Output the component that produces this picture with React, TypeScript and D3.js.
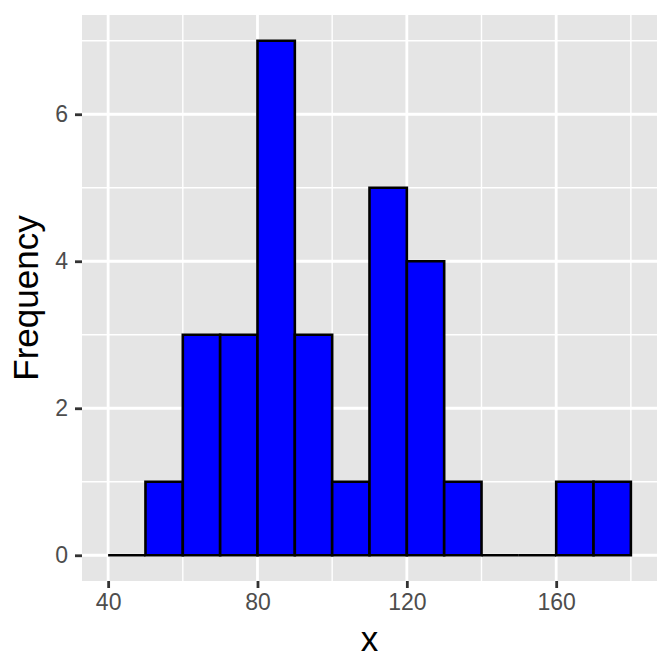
import { useEffect, useRef } from 'react';
import * as d3 from 'd3';

// Histogram bins (width 10) and their counts
const binStarts = [40, 50, 60, 70, 80, 90, 100, 110, 120, 130, 140, 150, 160, 170];
const counts = [0, 1, 3, 3, 7, 3, 1, 5, 4, 1, 0, 0, 1, 1];
const binWidth = 10;
const xTicks = [40, 80, 120, 160];
const xMinor = [60, 100, 140, 180];
const yTicks = [0, 2, 4, 6];
const yMinor = [1, 3, 5, 7];

const FONT = 'Liberation Sans, Arial, sans-serif';

const App = () => {
  const svgRef = useRef<SVGSVGElement>(null);

  useEffect(() => {
    if (!svgRef.current) return;
    d3.select(svgRef.current).selectAll('*').remove();

    const width = 672;
    const height = 672;
    const panel = { left: 82, right: 657, top: 15, bottom: 581 };

    const svg = d3.select(svgRef.current)
      .attr('width', width)
      .attr('height', height)
      .style('font-family', FONT);

    const xMin = binStarts[0];
    const xMax = binStarts[binStarts.length - 1] + binWidth;
    const xPad = (xMax - xMin) * 0.05;
    const yMax = d3.max(counts) as number;
    const yPad = yMax * 0.05;

    const x = d3.scaleLinear()
      .domain([xMin - xPad, xMax + xPad])
      .range([panel.left, panel.right]);
    const y = d3.scaleLinear()
      .domain([-yPad, yMax + yPad])
      .range([panel.bottom, panel.top]);

    // Panel background
    svg.append('rect')
      .attr('x', panel.left)
      .attr('y', panel.top)
      .attr('width', panel.right - panel.left)
      .attr('height', panel.bottom - panel.top)
      .attr('fill', '#E5E5E5');

    const grid = svg.append('g');
    // minor grid
    grid.selectAll('line.ymin').data(yMinor).join('line')
      .attr('x1', panel.left).attr('x2', panel.right)
      .attr('y1', d => y(d)).attr('y2', d => y(d))
      .attr('stroke', '#fff').attr('stroke-width', 1.4);
    grid.selectAll('line.xmin').data(xMinor).join('line')
      .attr('y1', panel.top).attr('y2', panel.bottom)
      .attr('x1', d => x(d)).attr('x2', d => x(d))
      .attr('stroke', '#fff').attr('stroke-width', 1.4);
    // major grid
    grid.selectAll('line.ymaj').data(yTicks).join('line')
      .attr('x1', panel.left).attr('x2', panel.right)
      .attr('y1', d => y(d)).attr('y2', d => y(d))
      .attr('stroke', '#fff').attr('stroke-width', 2.8);
    grid.selectAll('line.xmaj').data(xTicks).join('line')
      .attr('y1', panel.top).attr('y2', panel.bottom)
      .attr('x1', d => x(d)).attr('x2', d => x(d))
      .attr('stroke', '#fff').attr('stroke-width', 2.8);

    // Bars as closed paths so empty bins still show as a flat line
    svg.append('g')
      .selectAll('path')
      .data(binStarts.map((b, i) => ({ b, c: counts[i] })))
      .join('path')
      .attr('d', d => {
        const p = d3.path();
        p.moveTo(x(d.b), y(0));
        p.lineTo(x(d.b), y(d.c));
        p.lineTo(x(d.b + binWidth), y(d.c));
        p.lineTo(x(d.b + binWidth), y(0));
        p.closePath();
        return p.toString();
      })
      .attr('fill', '#0000FF')
      .attr('stroke', '#000')
      .attr('stroke-width', 2.6)
      .attr('stroke-linejoin', 'miter');

    // Axes
    const xAxis = svg.append('g')
      .attr('transform', `translate(0,${panel.bottom})`)
      .call(d3.axisBottom(x).tickValues(xTicks).tickSize(7).tickPadding(6));
    xAxis.select('.domain').remove();
    xAxis.selectAll('.tick line').attr('stroke', '#333').attr('stroke-width', 2.8);
    xAxis.selectAll('.tick text').attr('fill', '#4D4D4D').attr('font-size', 23)
      .attr('font-family', FONT);

    const yAxis = svg.append('g')
      .attr('transform', `translate(${panel.left},0)`)
      .call(d3.axisLeft(y).tickValues(yTicks).tickSize(7).tickPadding(7));
    yAxis.select('.domain').remove();
    yAxis.selectAll('.tick line').attr('stroke', '#333').attr('stroke-width', 2.8);
    yAxis.selectAll('.tick text').attr('fill', '#4D4D4D').attr('font-size', 23)
      .attr('font-family', FONT);

    // Titles
    svg.append('text')
      .attr('x', (panel.left + panel.right) / 2)
      .attr('y', 651)
      .attr('text-anchor', 'middle')
      .attr('font-size', 35)
      .attr('font-family', FONT)
      .attr('fill', '#000')
      .text('x');

    svg.append('text')
      .attr('transform', `translate(38,${(panel.top + panel.bottom) / 2}) rotate(-90)`)
      .attr('text-anchor', 'middle')
      .attr('font-size', 35)
      .attr('font-family', FONT)
      .attr('fill', '#000')
      .text('Frequency');
  }, []);

  return <svg ref={svgRef} style={{ display: 'block', margin: -8 }} />;
};

export default App;
